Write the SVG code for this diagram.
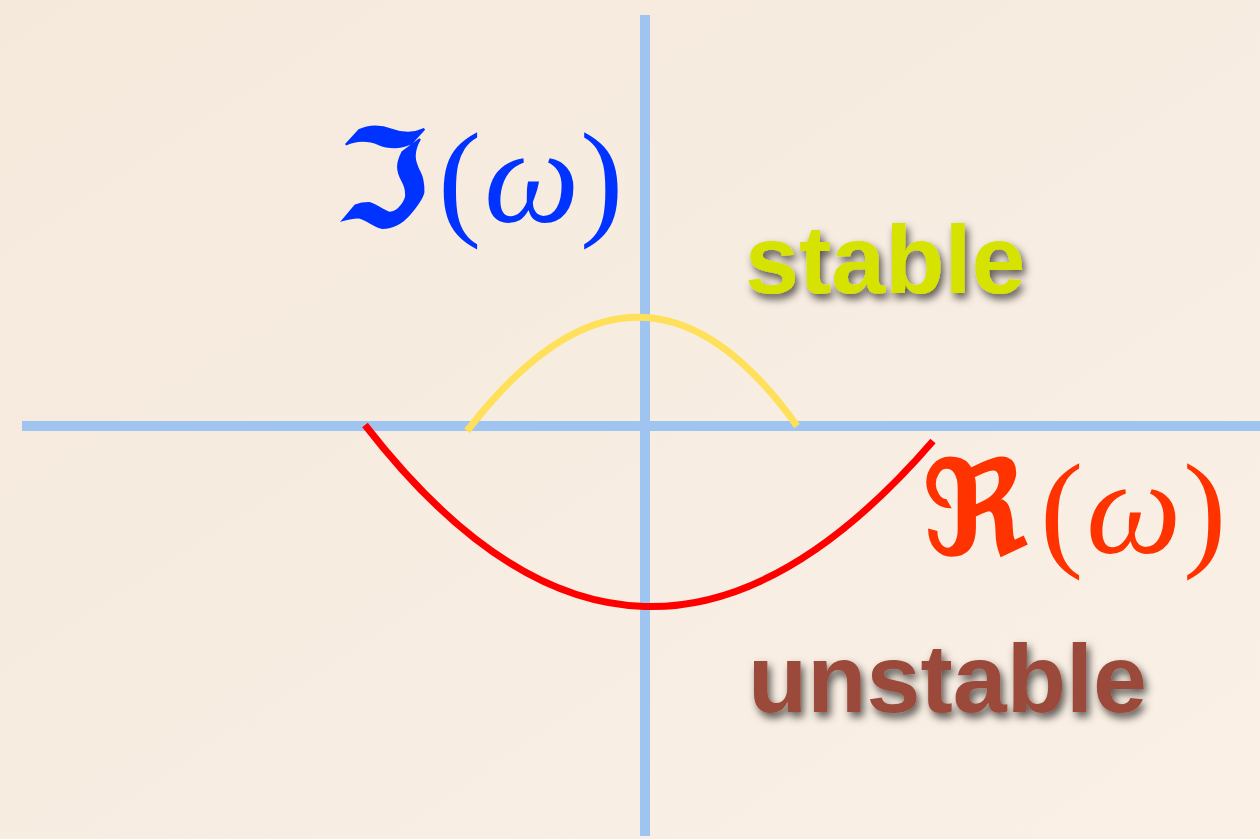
<svg xmlns="http://www.w3.org/2000/svg" width="1260" height="839" viewBox="0 0 1260 839">
  <defs>
    <linearGradient id="bg" x1="0" y1="0" x2="1" y2="1">
      <stop offset="0" stop-color="#F5E9DC"/>
      <stop offset="1" stop-color="#FAF0E6"/>
    </linearGradient>
    <filter id="shadow" x="-10%" y="-20%" width="120%" height="150%">
      <feDropShadow dx="3" dy="5" stdDeviation="4" flood-color="#000" flood-opacity="0.65"/>
    </filter>
    <style>
      .axis { stroke: #A0C4F0; stroke-width: 10; fill: none; }
      .curve { fill: none; stroke-width: 7; }
      .word { font-family: "Liberation Sans", Arial, sans-serif; font-weight: bold; font-size: 97px; filter: url(#shadow); }
      .frak { font-family: "DejaVu Serif", "DejaVu Sans", serif; font-weight: bold; }
      .math { font-family: "Liberation Serif", serif; }
    </style>
  </defs>
  <rect width="1260" height="839" fill="url(#bg)"/>
  <g id="axes">
    <line class="axis" x1="22" y1="426" x2="1260" y2="426"/>
    <line class="axis" x1="645" y1="15" x2="645" y2="836"/>
  </g>
  <g id="connectors">
    <path id="stable-curve" class="curve" stroke="#FFE05A" d="M467,431 Q640,206 797,426"/>
    <path id="unstable-curve" class="curve" stroke="#FF0000" d="M365,425 Q640,780 933,441"/>
  </g>
  <g id="label-imag">
    <text class="frak" x="336" y="226" font-size="134" fill="#0033FF" stroke="#0033FF" stroke-width="2">ℑ</text>
    <text class="math" x="438" y="222" font-size="130" fill="#0033FF">(</text>
    <text class="math" x="484" y="222" font-size="135" font-style="italic" fill="#0033FF">ω</text>
    <text class="math" x="580" y="222" font-size="130" fill="#0033FF">)</text>
  </g>
  <g id="label-real">
    <text class="frak" x="922" y="554" font-size="130" fill="#FF3300" stroke="#FF3300" stroke-width="2">ℜ</text>
    <text class="math" x="1040" y="553" font-size="130" fill="#FF3300">(</text>
    <text class="math" x="1086" y="553" font-size="135" font-style="italic" fill="#FF3300">ω</text>
    <text class="math" x="1183" y="553" font-size="130" fill="#FF3300">)</text>
  </g>
  <g id="label-stable">
    <text class="word" x="745" y="293" fill="#D6E300">stable</text>
  </g>
  <g id="label-unstable">
    <text class="word" x="748" y="712" fill="#9A4A3A">unstable</text>
  </g>
</svg>
